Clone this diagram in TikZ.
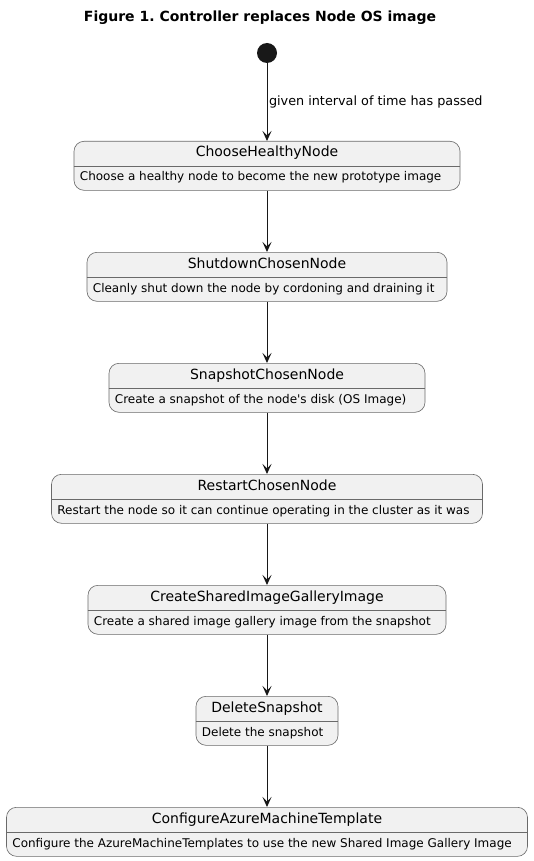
\documentclass[tikz,border=0pt]{standalone}
\usepackage{fontspec}
\setmainfont{DejaVu Sans}[Ligatures=TeXOff]
\usetikzlibrary{arrows.meta}
\definecolor{stfill}{HTML}{F1F1F1}
\definecolor{stline}{HTML}{181818}
\definecolor{stborder}{HTML}{6A6A6A}
\frenchspacing
\tikzset{
 statebox/.style={draw=stborder, line width=0.6pt, fill=stfill, rounded corners=10pt, minimum height=49pt, inner sep=0pt, anchor=north},
 stname/.style={font=\fontsize{14}{16}\selectfont, inner sep=0pt, anchor=center, text height=10pt, text depth=3pt},
 stdesc/.style={font=\fontsize{12}{14}\selectfont, inner sep=0pt, anchor=west, text height=9pt, text depth=3pt},
 flow/.style={draw=stline, line width=1pt, -{Stealth[length=10pt,width=9pt,inset=4.5pt]}},
}
\newcommand{\mystate}[5]{%
 \node[statebox, minimum width=#2pt] (#1) at (267,#3) {};
 \draw[stborder, line width=0.6pt] ([yshift=-0.5pt]#1.west) -- ([yshift=-0.5pt]#1.east);
 \node[stname] (#1n) at ([yshift=-12.5pt]#1.north) {#4};
 \node[stdesc] (#1d) at ([xshift=6pt,yshift=-37pt]#1.north west) {#5};
}
\begin{document}
\begin{tikzpicture}[x=1pt,y=-1pt]
\useasboundingbox[fill=white] (0,0) rectangle (534,861);
\node[font=\fontsize{14}{16}\selectfont\bfseries, inner sep=0pt] (title) at (260,18) {Figure 1. Controller replaces Node OS image};
\node[circle, fill=stline, minimum size=20pt, inner sep=0pt] (start) at (267,53) {};
\mystate{s1}{386}{141}{ChooseHealthyNode}{Choose a healthy node to become the new prototype image}
\mystate{s2}{360}{252}{ShutdownChosenNode}{Cleanly shut down the node by cordoning and draining it}
\mystate{s3}{316}{363}{SnapshotChosenNode}{Create a snapshot of the node's disk (OS Image)}
\mystate{s4}{431}{474}{RestartChosenNode}{Restart the node so it can continue operating in the cluster as it was}
\mystate{s5}{358}{585}{CreateSharedImageGalleryImage}{Create a shared image gallery image from the snapshot}
\mystate{s6}{142}{696}{DeleteSnapshot}{Delete the snapshot}
\mystate{s7}{521}{807}{ConfigureAzureMachineTemplate}{Configure the AzureMachineTemplates to use the new Shared Image Gallery Image}
\draw[flow] (start) -- node[pos=0.5, anchor=west, inner sep=1.5pt, font=\fontsize{12.8}{15}\selectfont] (lbl) {given interval of time has passed} (s1);
\draw[flow] (s1) -- (s2);
\draw[flow] (s2) -- (s3);
\draw[flow] (s3) -- (s4);
\draw[flow] (s4) -- (s5);
\draw[flow] (s5) -- (s6);
\draw[flow] (s6) -- (s7);
\end{tikzpicture}
\end{document}
